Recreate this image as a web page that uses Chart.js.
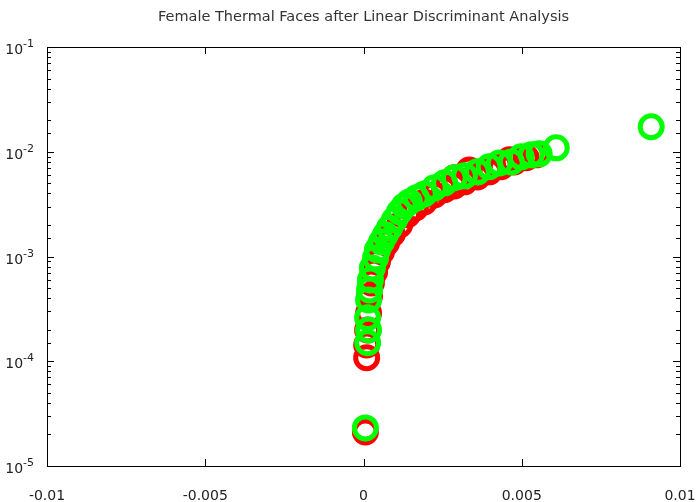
<!DOCTYPE html>
<html>
<head>
<meta charset="utf-8">
<script src="https://cdn.jsdelivr.net/npm/chart.js@4/dist/chart.umd.min.js"></script>
<style>
  html, body { margin: 0; padding: 0; background: #fff; }
  #wrap { width: 696px; height: 502px; }
</style>
</head>
<body>
<div id="wrap"><canvas id="myChart" width="696" height="502"></canvas></div>
<script>
// values
const titleText = 'Female Thermal Faces after Linear Discriminant Analysis';

const greenX = [0.00006, 0.00013, 0.00016, 0.00013, 0.00016, 0.00019, 0.00022, 0.00028, 0.00038, 0.00044,
                0.00057, 0.00069, 0.00082, 0.00098, 0.00114, 0.00129, 0.00145, 0.00167, 0.00192, 0.00224,
                0.00256, 0.00287, 0.00319, 0.0036, 0.00397, 0.00429, 0.00467, 0.00498, 0.0053, 0.00555,
                0.00609, 0.00909];
const greenY = [2.31e-5, 1.50e-4, 1.99e-4, 2.60e-4, 3.85e-4, 4.80e-4, 5.98e-4, 7.78e-4, 9.70e-4, 1.156e-3,
                1.38e-3, 1.61e-3, 1.87e-3, 2.24e-3, 2.67e-3, 3.04e-3, 3.32e-3, 3.63e-3, 3.96e-3, 4.52e-3,
                5.05e-3, 5.64e-3, 5.89e-3, 6.43e-3, 7.18e-3, 7.8e-3, 8.0e-3, 8.94e-3, 9.34e-3, 9.55e-3,
                1.09e-2, 1.73e-2];

const redX = [0.00006, 0.0001, 0.0001, 0.00013, 0.00016, 0.00019, 0.00025, 0.00035, 0.00044, 0.00057,
              0.00073, 0.00091, 0.00114, 0.00139, 0.00164, 0.00192, 0.00224, 0.00256, 0.00287, 0.00319,
              0.0036, 0.00397, 0.00435, 0.00476, 0.00514, 0.00546, 0.00287, 0.00334, 0.00429, 0.00461];
const redY = [2.11e-5, 1.08e-4, 1.43e-4, 1.99e-4, 2.89e-4, 4.2e-4, 5.6e-4, 7.1e-4, 8.9e-4, 1.11e-3,
              1.35e-3, 1.64e-3, 2.0e-3, 2.5e-3, 2.91e-3, 3.32e-3, 3.87e-3, 4.33e-3, 4.72e-3, 5.16e-3,
              5.75e-3, 6.43e-3, 7.18e-3, 8.0e-3, 8.75e-3, 9.34e-3, 5.64e-3, 6.7e-3, 7.5e-3, 8.37e-3];

const xTickValues = [-0.01, -0.005, 0, 0.005, 0.01];
const xTickLabels = ['-0.01', '-0.005', '0', '0.005', '0.01'];
const yTickValues = [1e-5, 1e-4, 1e-3, 1e-2, 1e-1];
const yTickExponents = ['-5', '-4', '-3', '-2', '-1'];

function toPoints(xs, ys) {
  return xs.map((x, i) => ({ x: x, y: ys[i] }));
}

// frame, inward ticks, y labels (10 with raised exponent) and the title
const framePlugin = {
  id: 'frame',
  afterDraw(chart) {
    const ctx = chart.ctx;
    const a = chart.chartArea;
    const ys = chart.scales.y;
    ctx.save();
    ctx.strokeStyle = '#000';
    ctx.lineWidth = 1;
    ctx.strokeRect(Math.round(a.left) + 0.5, Math.round(a.top) + 0.5,
                   Math.round(a.right - a.left), Math.round(a.bottom - a.top));
    ctx.beginPath();
    for (const v of xTickValues) {
      const px = Math.round(chart.scales.x.getPixelForValue(v)) + 0.5;
      ctx.moveTo(px, a.bottom); ctx.lineTo(px, a.bottom - 7);
      ctx.moveTo(px, a.top); ctx.lineTo(px, a.top + 7);
    }
    for (const t of ys.ticks) {
      const py = Math.round(ys.getPixelForValue(t.value)) + 0.5;
      const e = Math.log10(t.value);
      const len = Math.abs(e - Math.round(e)) < 1e-6 ? 7 : 4;
      ctx.moveTo(a.left, py); ctx.lineTo(a.left + len, py);
      ctx.moveTo(a.right, py); ctx.lineTo(a.right - len, py);
    }
    ctx.stroke();

    ctx.fillStyle = '#222';
    ctx.textBaseline = 'alphabetic';
    yTickValues.forEach((v, i) => {
      const py = ys.getPixelForValue(v);
      ctx.font = '11px "DejaVu Sans"';
      ctx.textAlign = 'right';
      ctx.fillText(yTickExponents[i], 34, py);
      const ew = ctx.measureText(yTickExponents[i]).width;
      ctx.font = '14px "DejaVu Sans"';
      ctx.fillText('10', 34 - ew, py + 7);
    });

    ctx.fillStyle = '#333';
    ctx.font = '14.5px "DejaVu Sans"';
    ctx.textAlign = 'center';
    ctx.textBaseline = 'middle';
    ctx.fillText(titleText, (a.left + a.right) / 2, 17);
    ctx.restore();
  }
};

new Chart(document.getElementById('myChart').getContext('2d'), {
  type: 'scatter',
  data: {
    datasets: [
      {
        label: 'green',
        data: toPoints(greenX, greenY),
        borderColor: '#00ff00',
        backgroundColor: 'rgba(0,0,0,0)',
        borderWidth: 5,
        pointRadius: 11,
        pointHoverRadius: 11,
        order: 1
      },
      {
        label: 'red',
        data: toPoints(redX, redY),
        borderColor: '#ff0000',
        backgroundColor: 'rgba(0,0,0,0)',
        borderWidth: 5,
        pointRadius: 11,
        pointHoverRadius: 11,
        order: 2
      }
    ]
  },
  options: {
    responsive: false,
    animation: false,
    events: [],
    layout: { padding: { top: 47, right: 15, left: 0, bottom: 0 } },
    plugins: {
      legend: { display: false },
      title: { display: false },
      tooltip: { enabled: false }
    },
    scales: {
      x: {
        type: 'linear',
        min: -0.01,
        max: 0.01,
        grid: { display: false },
        border: { display: false },
        afterBuildTicks(scale) {
          scale.ticks = xTickValues.map(v => ({ value: v }));
        },
        afterFit(scale) {
          scale.height = 36;
          scale.paddingLeft = 0;
          scale.paddingRight = 0;
        },
        ticks: {
          color: '#222',
          font: { family: 'DejaVu Sans', size: 14 },
          padding: 14,
          maxRotation: 0,
          autoSkip: false,
          callback(value) {
            const i = xTickValues.findIndex(v => Math.abs(v - value) < 1e-9);
            return i >= 0 ? xTickLabels[i] : '';
          }
        }
      },
      y: {
        type: 'logarithmic',
        min: 1e-5,
        max: 1e-1,
        grid: { display: false },
        border: { display: false },
        afterFit(scale) {
          scale.width = 47;
          scale.paddingTop = 0;
          scale.paddingBottom = 0;
        },
        ticks: { display: false, autoSkip: false }
      }
    }
  },
  plugins: [framePlugin]
});
</script>
</body>
</html>
